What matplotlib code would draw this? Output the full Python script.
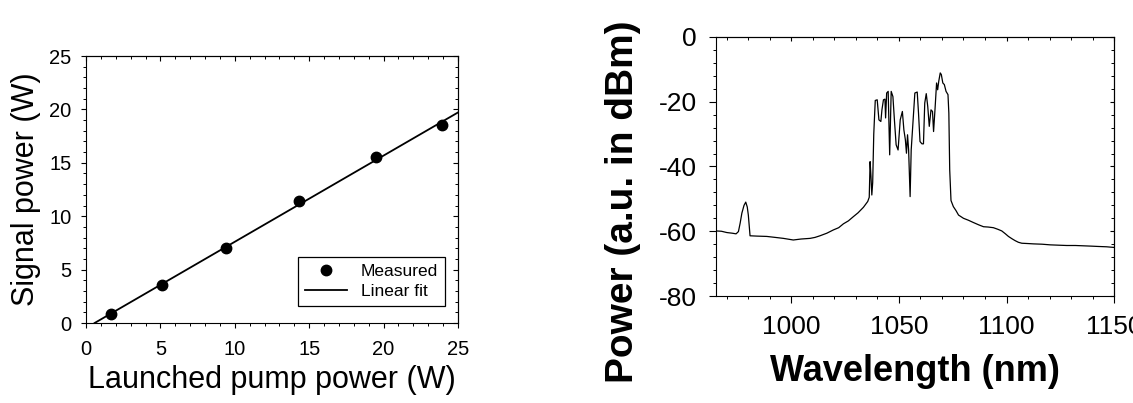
import numpy as np
import matplotlib
matplotlib.use('Agg')
import matplotlib.pyplot as plt
from matplotlib.ticker import MultipleLocator

plt.rcParams['font.family'] = ['Liberation Sans', 'DejaVu Sans']
plt.rcParams['axes.unicode_minus'] = False

# --- Datos: potencia de señal vs potencia de bombeo ---
bombeo = [1.7, 5.1, 9.4, 14.3, 19.5, 23.9]      # W
senal = [0.85, 3.55, 7.05, 11.4, 15.5, 18.5]     # W

# --- Datos: espectro (longitud de onda en nm, potencia en dBm) ---
lambda_nm = [965.0, 967.5, 970.0, 972.5, 974.3, 975.4, 976.2, 977.0, 978.0, 978.8,
             979.5, 980.0, 980.8, 984.0, 988.6, 992.5, 996.3, 1000.9, 1004.5, 1008.7,
             1011.0, 1013.3, 1016.5, 1019.5, 1022.0, 1024.2, 1026.5, 1028.8, 1031.0,
             1033.5, 1035.5, 1036.2, 1036.6, 1037.0, 1037.4, 1037.8, 1038.3, 1038.7,
             1039.0, 1039.9, 1040.7, 1041.6, 1042.1, 1042.8, 1043.5, 1043.8, 1044.3,
             1045.0, 1045.7, 1046.4, 1047.2, 1047.9, 1048.7, 1049.6, 1050.6, 1051.6,
             1052.3, 1053.0, 1053.5, 1054.0, 1054.5, 1055.2, 1055.7, 1056.6, 1057.4,
             1058.5, 1059.1, 1059.8, 1060.7, 1061.4, 1062.0, 1062.7, 1063.4, 1064.1,
             1064.9, 1065.6, 1066.1, 1066.8, 1067.5, 1068.0, 1068.5, 1069.2, 1069.7,
             1070.4, 1071.1, 1071.9, 1072.8, 1073.2, 1073.6, 1074.2, 1075.3, 1076.5,
             1077.7, 1080.0, 1082.3, 1084.6, 1087.0, 1089.3, 1091.5, 1093.9, 1096.0,
             1097.8, 1099.5, 1100.9, 1102.5, 1104.0, 1105.5, 1107.1, 1110.0, 1112.5,
             1116.5, 1120.3, 1124.0, 1128.0, 1132.0, 1135.8, 1139.5, 1142.7, 1146.5,
             1150.0]
potencia_dbm = [-59.9, -60.0, -60.4, -60.6, -60.8, -60.1, -57.5, -54.4, -52.0, -51.0,
                -52.5, -55.0, -61.4, -61.5, -61.6, -61.9, -62.2, -62.7, -62.4, -62.2,
                -61.9, -61.4, -60.6, -59.6, -58.9, -57.7, -56.8, -55.5, -54.3,
                -52.6, -50.8, -49.5, -38.5, -43.0, -48.8, -45.0, -30.0, -24.0,
                -19.6, -19.4, -25.6, -26.1, -22.5, -19.4, -19.2, -25.0, -17.3,
                -16.8, -36.4, -16.8, -18.4, -25.6, -33.3, -34.9, -25.6, -23.0,
                -28.7, -31.8, -35.9, -30.2, -34.9, -49.3, -34.9, -25.6, -17.3,
                -17.0, -23.5, -32.3, -33.0, -33.0, -20.4, -17.5, -21.5, -27.6,
                -22.5, -23.0, -29.2, -22.0, -14.2, -16.3, -13.7, -11.1, -11.6,
                -14.2, -14.7, -16.8, -17.8, -23.5, -41.0, -50.5, -52.4, -53.6,
                -55.0, -56.0, -56.6, -57.3, -58.0, -58.6, -58.7, -58.9, -59.4,
                -59.9, -60.8, -61.6, -62.3, -62.9, -63.4, -63.7, -63.8, -63.9,
                -64.0, -64.2, -64.3, -64.4, -64.4, -64.5, -64.6, -64.7, -64.8,
                -65.0]

fig = plt.figure(figsize=(11.33, 4.03), dpi=100)

# --- Panel izquierdo ---
ax1 = fig.add_axes([0.0759, 0.1985, 0.3283, 0.6625])

pendiente, ordenada = np.polyfit(bombeo, senal, 1)
x_fit = np.array([-ordenada / pendiente, 25])
ax1.plot(bombeo, senal, 'o', color='black', markersize=7.5, label='Measured')
ax1.plot(x_fit, pendiente * x_fit + ordenada, color='black', linewidth=1.3,
         label='Linear fit')

ax1.set_xlim(0, 25)
ax1.set_ylim(0, 25)
ax1.xaxis.set_major_locator(MultipleLocator(5))
ax1.xaxis.set_minor_locator(MultipleLocator(1))
ax1.yaxis.set_major_locator(MultipleLocator(5))
ax1.yaxis.set_minor_locator(MultipleLocator(1))
ax1.tick_params(which='major', direction='out', length=3.5, width=0.8,
                labelsize=14.5)
ax1.tick_params(which='minor', direction='out', length=2, width=0.7)
ax1.tick_params(axis='x', which='major', pad=9)
ax1.tick_params(axis='y', which='major', pad=7)

ax1.set_xlabel('Launched pump power (W)', fontsize=22, va='center')
ax1.set_ylabel('Signal power (W)', fontsize=22, va='center')
ax1.xaxis.set_label_coords(0.5, -0.215)
ax1.yaxis.set_label_coords(-0.161, 0.5)

ley = ax1.legend(loc='lower right', bbox_to_anchor=(0.965, 0.064),
                 borderaxespad=0, fancybox=False, edgecolor='black',
                 fontsize=12.5, numpoints=1, handlelength=2.4,
                 labelspacing=0.25, framealpha=1)
ley.get_frame().set_linewidth(0.9)

# Ticks hacia dentro arriba y a la derecha
sec_x = ax1.secondary_xaxis('top')
sec_x.xaxis.set_major_locator(MultipleLocator(5))
sec_x.xaxis.set_minor_locator(MultipleLocator(1))
sec_x.tick_params(which='major', direction='in', length=3.5, width=0.8,
                  labeltop=False)
sec_x.tick_params(which='minor', direction='in', length=2, width=0.7)
sec_y = ax1.secondary_yaxis('right')
sec_y.yaxis.set_major_locator(MultipleLocator(5))
sec_y.yaxis.set_minor_locator(MultipleLocator(1))
sec_y.tick_params(which='major', direction='in', length=3.5, width=0.8,
                  labelright=False)
sec_y.tick_params(which='minor', direction='in', length=2, width=0.7)

# --- Panel derecho ---
ax2 = fig.add_axes([0.632, 0.2655, 0.3513, 0.6427])
ax2.plot(lambda_nm, potencia_dbm, color='black', linewidth=0.9)

ax2.set_xlim(965, 1150)
ax2.set_ylim(-80, 0)
ax2.set_xticks([1000, 1050, 1100, 1150])
ax2.set_xticklabels(['1000', '1050', '1100', '1150'])
ax2.xaxis.set_minor_locator(MultipleLocator(10))
ax2.yaxis.set_major_locator(MultipleLocator(20))
ax2.yaxis.set_minor_locator(MultipleLocator(4))
ax2.tick_params(which='major', direction='out', length=5, width=0.8,
                labelsize=19)
ax2.tick_params(which='minor', direction='out', length=2.5, width=0.7)
ax2.tick_params(axis='x', which='major', pad=9)
ax2.tick_params(axis='y', which='major', pad=9)

ax2.set_xlabel('Wavelength (nm)', fontsize=26, fontweight='bold', va='center')
ax2.set_ylabel('Power (a.u. in dBm)', fontsize=28, fontweight='bold', va='center')
ax2.xaxis.set_label_coords(0.5, -0.293)
ax2.yaxis.set_label_coords(-0.234, 0.365)

sec_x2 = ax2.secondary_xaxis('top')
sec_x2.xaxis.set_minor_locator(MultipleLocator(10))
sec_x2.set_xticks([1000, 1050, 1100, 1150])
sec_x2.tick_params(which='major', direction='in', length=3, width=0.8,
                   labeltop=False)
sec_x2.tick_params(which='minor', direction='in', length=2.5, width=0.7)
sec_y2 = ax2.secondary_yaxis('right')
sec_y2.yaxis.set_major_locator(MultipleLocator(20))
sec_y2.yaxis.set_minor_locator(MultipleLocator(4))
sec_y2.tick_params(which='major', direction='in', length=3, width=0.8,
                   labelright=False)
sec_y2.tick_params(which='minor', direction='in', length=2.5, width=0.7)

plt.savefig('out.png', dpi=100)
plt.close()
